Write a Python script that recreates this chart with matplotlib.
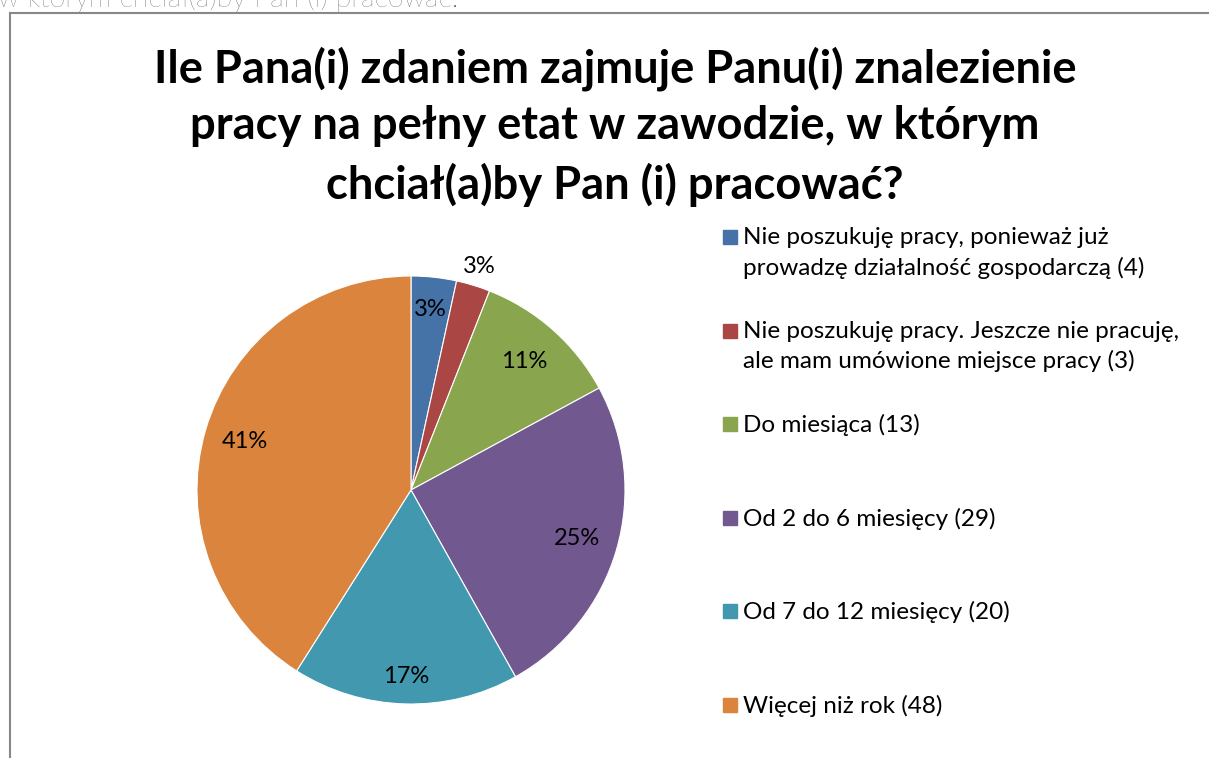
# plot.py
# Pie chart: czas znalezienia pracy na pelny etat
import matplotlib.pyplot as plt
import numpy as np

W, H = 1209, 758

title = ("Ile Pana(i) zdaniem zajmuje Panu(i) znalezienie\n"
         "pracy na pełny etat w zawodzie, w którym\n"
         "chciał(a)by Pan (i) pracować?")
top_text = "w którym chciał(a)by Pan (i) pracować."

categories = ["Nie poszukuję pracy, ponieważ już\nprowadzę działalność gospodarczą (4)",
              "Nie poszukuję pracy. Jeszcze nie pracuję,\nale mam umówione miejsce pracy (3)",
              "Do miesiąca (13)",
              "Od 2 do 6 miesięcy (29)",
              "Od 7 do 12 miesięcy (20)",
              "Więcej niż rok (48)"]
counts = [4, 3, 13, 29, 20, 48]
colors = ["#4572A7", "#AA4643", "#89A54E", "#71588F", "#4198AF", "#DB843D"]
# label distance from centre (fraction of radius), Excel "best fit"
label_dist = [0.85, 1.09, 0.80, 0.81, 0.87, 0.81]

plt.rcParams['font.family'] = ['Lato', 'DejaVu Sans']

fig = plt.figure(figsize=(W / 100, H / 100), dpi=100)

# frame lines of the chart area
fig.add_artist(plt.Line2D([10 / W, 10 / W], [0, 1 - 13 / H], color="#888888", lw=1.5))
fig.add_artist(plt.Line2D([10 / W, 1], [1 - 13 / H, 1 - 13 / H], color="#888888", lw=1.5))

# cut-off text above the chart
fig.text(-2 / W, 1 - 7 / H, top_text, fontsize=20.5, color="#404040",
         fontweight="light", va="baseline", ha="left")

fig.text(615 / W, 1 - 46 / H, title, fontsize=32.7, fontweight="bold",
         ha="center", va="top", linespacing=1.43)

cx, cy, R = 411, 490, 214
ax = fig.add_axes([(cx - R) / W, (H - cy - R) / H, 2 * R / W, 2 * R / H])
wedges, _ = ax.pie(counts, colors=colors, startangle=90, counterclock=False,
                   wedgeprops=dict(edgecolor="white", linewidth=0.8))
ax.set_xlim(-1, 1)
ax.set_ylim(-1, 1)
ax.set_aspect("equal")

total = float(sum(counts))
for w, n, d in zip(wedges, counts, label_dist):
    ang = np.deg2rad((w.theta1 + w.theta2) / 2.0)
    ax.text(d * np.cos(ang), d * np.sin(ang), "%d%%" % round(100 * n / total),
            ha="center", va="center", fontsize=17, color="black")

# legend drawn by hand so squares align with first line
for i, (lab, c) in enumerate(zip(categories, colors)):
    y = 237 + i * 93.6
    fig.add_artist(plt.Rectangle((723 / W, 1 - (y + 7) / H), 14 / W, 14 / H,
                                 color=c, transform=fig.transFigure))
    fig.text(743 / W, 1 - (y - 10) / H, lab, fontsize=17.5, ha="left", va="top",
             linespacing=1.48)

fig.savefig("out.png", dpi=100)
